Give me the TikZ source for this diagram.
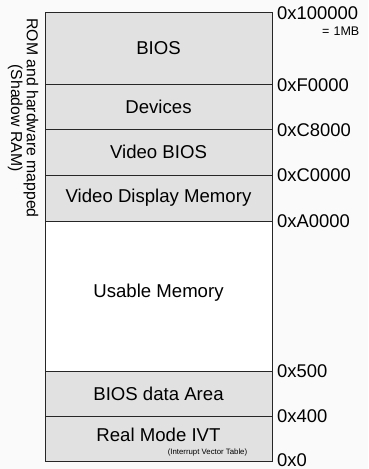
\documentclass[tikz,border=0pt]{standalone}
\usepackage{fontspec}
\setmainfont{Liberation Sans}
\usepackage{tikz}
\usetikzlibrary{positioning}
\definecolor{bgcol}{RGB}{250,250,250}
\definecolor{memgray}{RGB}{225,225,225}

\begin{document}
\begin{tikzpicture}[x=1pt,y=-1pt,
    region/.style={draw=black!85,line width=1pt},
    lbl/.style={inner sep=0pt,font=\fontsize{18.6}{20}\selectfont},
    addr/.style={anchor=west,inner sep=0pt,font=\fontsize{18.4}{20}\selectfont}]
    \fill[bgcol] (0,0) rectangle (368,469);
    \useasboundingbox (0,0) rectangle (368,469);
    % memory regions, top = high addresses
    \filldraw[region,fill=memgray] (45,12) rectangle (272,84);
    \filldraw[region,fill=memgray] (45,84) rectangle (272,129);
    \filldraw[region,fill=memgray] (45,129) rectangle (272,175);
    \filldraw[region,fill=memgray] (45,175) rectangle (272,221);
    \filldraw[region,fill=white] (45,221) rectangle (272,371);
    \filldraw[region,fill=memgray] (45,371) rectangle (272,416);
    \filldraw[region,fill=memgray] (45,416) rectangle (272,461);
    % region names
    \node[lbl] (bios) at (158.5,48) {BIOS};
    \node[lbl] (dev) at (158.5,106.5) {Devices};
    \node[lbl] (vbios) at (158.5,152) {Video BIOS};
    \node[lbl] (vdm) at (158.5,198) {Video Display Memory};
    \node[lbl] (usable) at (158.5,293) {Usable Memory};
    \node[lbl] (bda) at (158.5,393.5) {BIOS data Area};
    \node[lbl] (ivt) at (158.5,435) {Real Mode IVT};
    \node[inner sep=0pt,font=\fontsize{7.8}{9}\selectfont] (ivtnote) at (207.5,452.5) {(Interrupt Vector Table)};
    % addresses
    \node[addr] (a100000) at (277,13) {0x100000};
    \node[anchor=east,inner sep=0pt,font=\fontsize{12.5}{14}\selectfont] (mb) at (359.5,31) {=\,\,1MB};
    \node[addr] (aF0000) at (277,85) {0xF0000};
    \node[addr] (aC8000) at (277,130) {0xC8000};
    \node[addr] (aC0000) at (277,175) {0xC0000};
    \node[addr] (aA0000) at (277,221) {0xA0000};
    \node[addr] (a500) at (277,371) {0x500};
    \node[addr] (a400) at (277,416) {0x400};
    \node[addr] (a0) at (277,460) {0x0};
    % side note
    \node[rotate=-90,align=center,inner sep=0pt,font=\fontsize{15.8}{14.5}\selectfont] (rom) at (23,118) {ROM and hardware mapped\\(Shadow RAM)};
\end{tikzpicture}
\end{document}
